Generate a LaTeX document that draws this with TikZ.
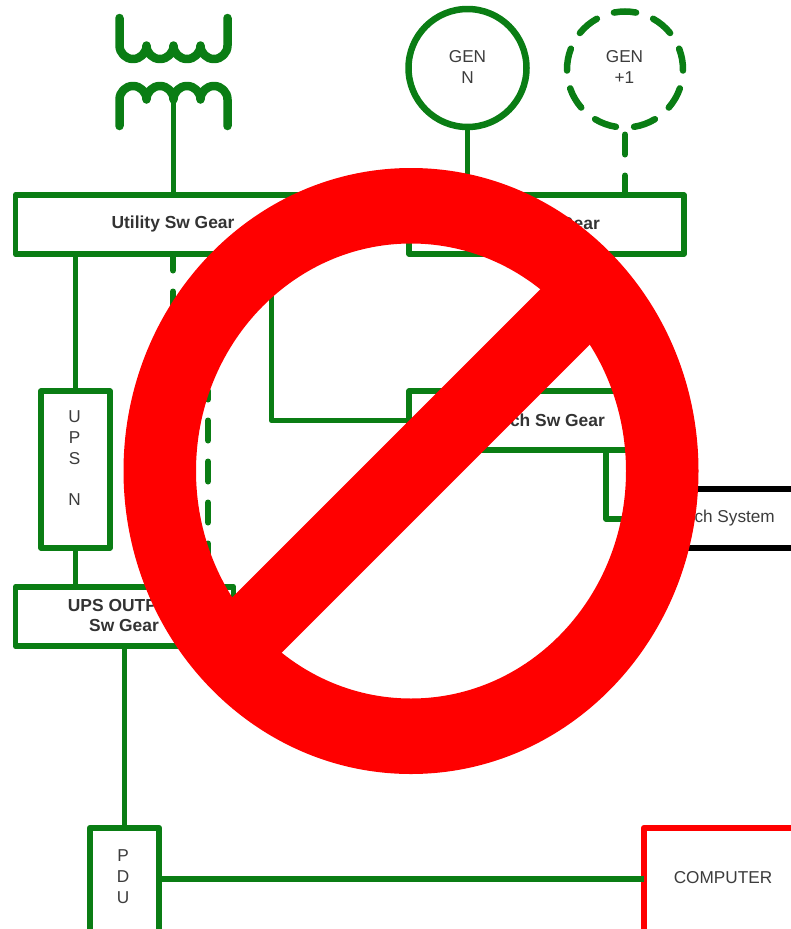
\documentclass[tikz,border=0pt]{standalone}
\usepackage{fontspec}
\usetikzlibrary{calc}
\setmainfont{Liberation Sans}
\definecolor{gr}{RGB}{10,125,20}
\definecolor{rd}{RGB}{255,0,0}
\definecolor{tx}{RGB}{60,60,60}
\tikzset{x=1pt,y=-1pt,
 wire/.style={draw=gr,line width=5.8pt},
 dwire/.style={draw=gr,line width=6pt,line cap=round,dash pattern=on 20pt off 21pt},
 coil/.style={draw=gr,line width=8.5pt,line cap=round,line join=round},
 boxx/.style={draw=gr,line width=5.8pt,fill=white,inner sep=0pt,outer sep=0pt,anchor=north west,line join=round},
 lab/.style={text=tx,font=\fontsize{17.2}{21}\selectfont,align=center,inner sep=0pt},
 blab/.style={text=tx!85!black,font=\bfseries\fontsize{17.4}{20}\selectfont,align=center,inner sep=0pt}}
\begin{document}
\begin{tikzpicture}
\useasboundingbox (0,0) rectangle (790,929);
% transformer
\draw[coil] (119.5,18) -- (119.5,45.5) arc[start angle=180,end angle=0,radius=13.5] arc[start angle=180,end angle=0,radius=13.5] arc[start angle=180,end angle=0,radius=13.5] arc[start angle=180,end angle=0,radius=13.5] -- (227.5,18);
\draw[coil] (119.5,126) -- (119.5,99.5) arc[start angle=180,end angle=360,radius=13.5] arc[start angle=180,end angle=360,radius=13.5] arc[start angle=180,end angle=360,radius=13.5] arc[start angle=180,end angle=360,radius=13.5] -- (227.5,126);
\coordinate (tr) at (173.5,100);
% nodes
\node[boxx,minimum width=285pt,minimum height=59pt] (usg) at (15.5,195) {};
\node[blab] at (173,224) {Utility Sw Gear};
\node[boxx,minimum width=275pt,minimum height=59pt] (gsg) at (409,195) {};
\node[blab,anchor=east] at (600,224) {Gear};
\node[boxx,minimum width=69pt,minimum height=157pt] (ups) at (41,391) {};
\node[lab] at (74.5,458) {U\\P\\S\\[20pt]N};
\node[boxx,minimum width=218pt,minimum height=59pt] (uo) at (15.5,587) {};
\node[blab] at (124,616) {UPS OUTPUT\\Sw Gear};
\node[boxx,minimum width=230pt,minimum height=59pt] (bsg) at (409,391) {};
\node[blab,anchor=east] at (605,420) {ch Sw Gear};
\node[boxx,line width=6.5pt,minimum width=69pt,minimum height=110pt] (pdu) at (90,828) {};
\node[lab] at (123,877) {P\\D\\U};
\node[boxx,draw=rd,line width=6.5pt,minimum width=170pt,minimum height=110pt] (comp) at (644,828) {};
\node[lab] at (723,878) {COMPUTER};
\node[draw=gr,line width=6.5pt,circle,minimum size=118pt,inner sep=0pt,outer sep=0pt] (gn) at (467.5,68) {};
\node[lab] at (467.5,67) {GEN\\N};
\node[circle,minimum size=116pt,inner sep=0pt,outer sep=0pt] (g1) at (625,69.5) {};
\foreach \a in {90,50,10,-30,-70,-110,-150,170,130}
  \draw[draw=gr,line width=6.5pt,line cap=round] ($(g1.center)+({-\a-11}:58)$) arc[start angle=-\a-11,end angle=-\a+11,radius=58];
\node[lab] at (624.5,67) {GEN\\+1};
\draw[draw=black,line width=6.5pt] (660,489) -- (800,489) (660,548) -- (800,548);
\coordinate (sts) at (670,519);
\node[lab,anchor=east] at (775,518) {ch System};
% connectors
\draw[wire] (tr) -- (173.5,195);
\draw[wire] (gn.south) -- (467.5,195);
\draw[dwire] (625,134.5) -- (625,195);
\draw[wire] (75.5,254) -- (75.5,391);
\draw[wire] (75.5,548) -- (75.5,587);
\draw[wire] (124.5,646) -- (124.5,828);
\draw[wire] (159,879) -- (644,879);
\draw[wire,line join=round] (271.5,254) -- (271.5,420.5) -- (409,420.5);
\draw[wire,line join=round] (606,450) -- (606,519) -- (sts);
\draw[dwire,dash phase=5.5pt] (173,256) -- (173,320);
\draw[dwire,dash phase=11.5pt] (208,391) -- (208,587);
% prohibition
\fill[rd,even odd rule] (411,471) ellipse[x radius=287.5,y radius=303] (411,471) ellipse[x radius=215,y radius=227.5];
\draw[draw=rd,line width=74pt] (211,671) -- (611,271);
\end{tikzpicture}
\end{document}
